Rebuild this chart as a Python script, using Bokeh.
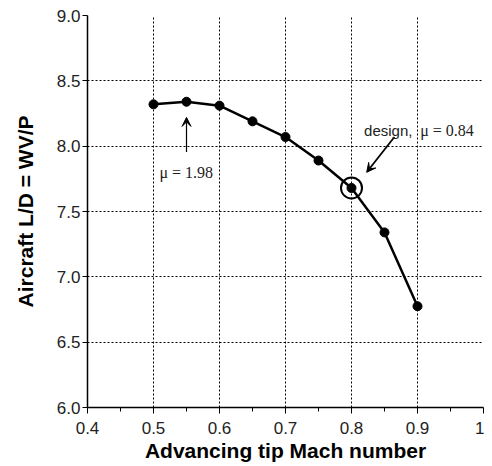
from bokeh.plotting import figure
from bokeh.models import Arrow, VeeHead, Label, FixedTicker, PrintfTickFormatter
from bokeh.embed import file_html
from bokeh.resources import INLINE

mach = [0.5, 0.55, 0.6, 0.65, 0.7, 0.75, 0.8, 0.85, 0.9]
ld = [8.32, 8.34, 8.31, 8.19, 8.07, 7.89, 7.68, 7.34, 6.775]
design_mach = [0.8]
design_ld = [7.68]
x_ticks = [0.4, 0.5, 0.6, 0.7, 0.8, 0.9, 1.0]
x_minor = [0.45, 0.55, 0.65, 0.75, 0.85, 0.95]
y_ticks = [6.0, 6.5, 7.0, 7.5, 8.0, 8.5, 9.0]

p = figure(width=484, height=464, output_backend="svg", toolbar_location=None,
           x_range=(0.4, 1.0), y_range=(6.0, 9.0),
           min_border_left=87, min_border_right=1, min_border_top=15, min_border_bottom=54)
p.outline_line_color = None
p.background_fill_color = "white"

p.xaxis.ticker = FixedTicker(ticks=x_ticks, minor_ticks=x_minor)
p.xaxis.major_label_overrides = {1.0: "1", 1: "1"}
p.yaxis.ticker = FixedTicker(ticks=y_ticks)
p.yaxis.formatter = PrintfTickFormatter(format="%.1f")

for ax in (p.xaxis, p.yaxis):
    ax.axis_line_color = "black"
    ax.axis_line_width = 1.5
    ax.major_tick_line_color = "black"
    ax.major_tick_in = 0
    ax.major_tick_out = 6
    ax.minor_tick_line_color = "black"
    ax.minor_tick_in = 0
    ax.minor_tick_out = 4
    ax.major_label_text_font = "Liberation Sans"
    ax.major_label_text_font_size = "17px"
    ax.major_label_text_color = "#222222"
    ax.axis_label_text_font = "Liberation Sans"
    ax.axis_label_text_font_style = "bold"
    ax.axis_label_text_font_size = "21px"
    ax.axis_label_text_color = "black"
p.yaxis.minor_tick_line_color = None
p.yaxis.major_tick_out = 5
p.xaxis.major_label_standoff = 8
p.yaxis.major_label_standoff = 2
p.xaxis.axis_label_standoff = 2
p.yaxis.axis_label_standoff = 17
p.xaxis.axis_label = "Advancing tip Mach number"
p.yaxis.axis_label = "Aircraft L/D = WV/P"

for g in (p.xgrid, p.ygrid):
    g.grid_line_color = "black"
    g.grid_line_dash = "2 2"
    g.grid_line_width = 1

p.line(mach, ld, line_color="black", line_width=2.5)
p.scatter(mach, ld, size=9, fill_color="black", line_color="black")
p.scatter(design_mach, design_ld, size=21, fill_color=None, line_color="black", line_width=2)

p.add_layout(Arrow(end=VeeHead(size=9, fill_color="black", line_color="black"),
                   x_start=0.55, y_start=7.955, x_end=0.55, y_end=8.22,
                   line_color="black", line_width=1.2))
p.add_layout(Arrow(end=VeeHead(size=9, fill_color="black", line_color="black"),
                   x_start=0.865, y_start=8.07, x_end=0.823, y_end=7.80,
                   line_color="black", line_width=1.8))

p.add_layout(Label(x=0.509, y=7.80, text="μ = 1.98", text_font="Liberation Serif",
                   text_font_size="16px", text_color="#222222", text_baseline="alphabetic"))
p.add_layout(Label(x=0.819, y=8.119, text="design,", text_font="Liberation Sans",
                   text_font_size="15px", text_color="#222222", text_baseline="alphabetic"))
p.add_layout(Label(x=0.904, y=8.119, text="μ = 0.84", text_font="Liberation Serif",
                   text_font_size="16px", text_color="#222222", text_baseline="alphabetic"))

open("out.html", "w").write(file_html(p, INLINE))
